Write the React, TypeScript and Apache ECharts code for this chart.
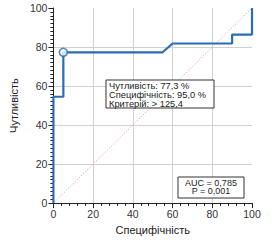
import React, { useEffect, useRef } from "react";
import * as echarts from "echarts";

const rocX = [0, 0, 5, 5, 55, 60, 90, 90, 100, 100];
const rocY = [0, 54.5, 54.5, 77.3, 77.3, 81.8, 81.8, 86.4, 86.4, 100];
const cutPoint = [5, 77.3];
const diagonal = [[0, 0], [100, 100]];
const infoLines = ["Чутливість: 77,3 %", "Специфічність: 95,0 %", "Критерій: > 125,4"];
const aucLines = ["AUC = 0,785", "P = 0,001"];

const FONT = "Liberation Sans, Arial, sans-serif";

export default function App() {
  const ref = useRef<HTMLDivElement>(null);
  useEffect(() => {
    if (!ref.current) return;
    const chart = echarts.init(ref.current, null, { renderer: "svg" });
    const axisCommon = {
      type: "value" as const,
      min: 0,
      max: 100,
      interval: 20,
      axisLine: { show: true, onZero: false, lineStyle: { color: "#222", width: 1 } },
      axisTick: { show: true, length: 5, lineStyle: { color: "#222" } },
      axisLabel: { color: "#333", fontSize: 10.5, fontFamily: FONT },
      splitLine: { show: true, showMaxLine: false, showMinLine: false, lineStyle: { color: "#d0d0d0", width: 1 } },
      nameTextStyle: { color: "#222", fontSize: 11, fontFamily: FONT },
    };
    const infoText = infoLines.map((t, i) => ({
      type: "text",
      x: 109,
      y: 85.7 + i * 9,
      z: 12,
      style: { text: t, font: `9.3px ${FONT}`, fill: "#222", verticalAlign: "middle", align: "left" },
    }));
    const aucText = aucLines.map((t, i) => ({
      type: "text",
      x: 211,
      y: 182.8 + i * 8.5,
      z: 12,
      style: { text: t, font: `9px ${FONT}`, fill: "#222", verticalAlign: "middle", align: "center" },
    }));
    chart.setOption({
      animation: false,
      backgroundColor: "#fff",
      grid: { left: 51, right: 28, top: 8, bottom: 32 },
      xAxis: {
        ...axisCommon,
        name: "Специфічність",
        nameLocation: "middle",
        nameGap: 18,
        axisLabel: { ...axisCommon.axisLabel, margin: 5 },
        minorTick: { show: true, splitNumber: 5, length: 3, lineStyle: { color: "#222" } },
      },
      yAxis: {
        ...axisCommon,
        name: "Чутливість",
        nameLocation: "middle",
        nameGap: 23,
        axisLabel: { ...axisCommon.axisLabel, margin: 6 },
        minorTick: { show: true, splitNumber: 10, length: 3, lineStyle: { color: "#222" } },
      },
      series: [
        {
          type: "line",
          data: diagonal,
          symbol: "none",
          lineStyle: { color: "#e57373", width: 0.8, type: [1, 2] },
          silent: true,
        },
        {
          type: "line",
          data: rocX.map((x, i) => [x, rocY[i]]),
          symbol: "none",
          clip: false,
          lineStyle: { color: "#2a6db5", width: 2.2 },
        },
        {
          type: "scatter",
          data: [cutPoint],
          symbol: "circle",
          symbolSize: 8,
          itemStyle: { color: "#fff", borderColor: "#2a6db5", borderWidth: 1.6 },
          z: 5,
        },
      ],
      graphic: [
        {
          type: "rect",
          z: 10,
          shape: { x: 106, y: 80, width: 108, height: 28 },
          style: { fill: "#fff", stroke: "#333", lineWidth: 1 },
        },
        {
          type: "rect",
          z: 10,
          shape: { x: 178, y: 177, width: 66, height: 21 },
          style: { fill: "#fff", stroke: "#333", lineWidth: 1 },
        },
        ...infoText,
        ...aucText,
      ],
    });
    return () => chart.dispose();
  }, []);
  return <div ref={ref} style={{ width: 280, height: 240, position: "absolute", left: 0, top: 0 }} />;
}
